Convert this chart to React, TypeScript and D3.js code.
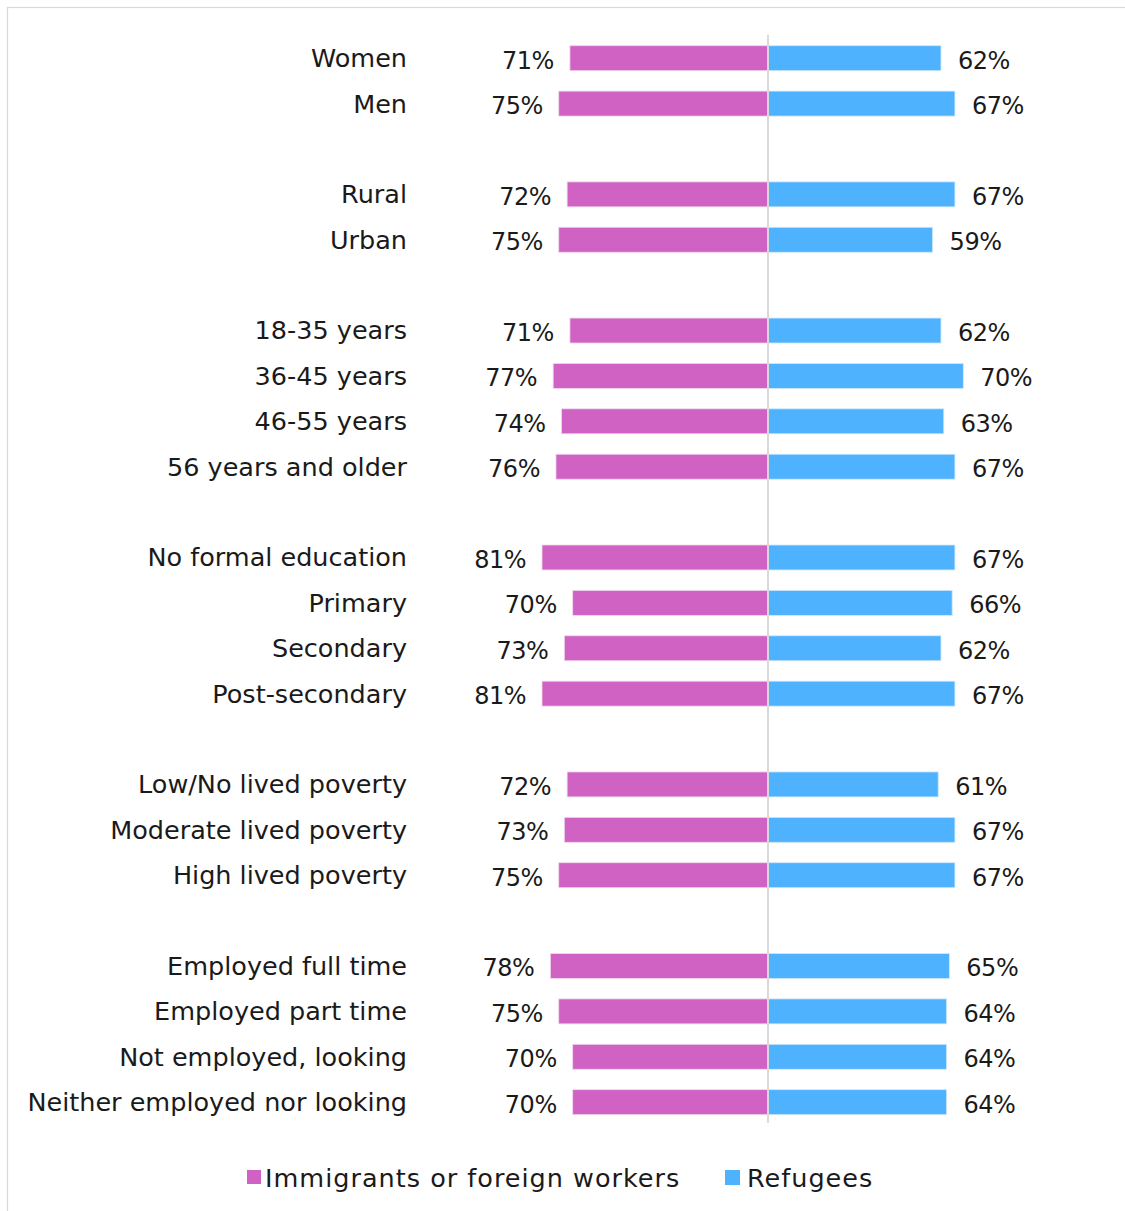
import React from "react";
import * as d3 from "d3";

const categories = [
  "Women", "Men", "",
  "Rural", "Urban", "",
  "18-35 years", "36-45 years", "46-55 years", "56 years and older", "",
  "No formal education", "Primary", "Secondary", "Post-secondary", "",
  "Low/No lived poverty", "Moderate lived poverty", "High lived poverty", "",
  "Employed full time", "Employed part time", "Not employed, looking", "Neither employed nor looking",
];
const immigrants: (number | null)[] = [
  71, 75, null,
  72, 75, null,
  71, 77, 74, 76, null,
  81, 70, 73, 81, null,
  72, 73, 75, null,
  78, 75, 70, 70,
];
const refugees: (number | null)[] = [
  62, 67, null,
  67, 59, null,
  62, 70, 63, 67, null,
  67, 66, 62, 67, null,
  61, 67, 67, null,
  65, 64, 64, 64,
];
const seriesNames = ["Immigrants or foreign workers", "Refugees"];
const colors = ["#D062C4", "#4EB2FF"];

const W = 1125;
const H = 1211;
const CX = 768;
const FONT = "'DejaVu Sans', sans-serif";

export default function App() {
  const slots = categories.map((_, i) => String(i));
  const y = d3.scaleBand<string>().domain(slots).range([35.5, 35.5 + 45.39 * 24]).paddingInner(0.45).paddingOuter(0.225);
  const len = d3.scaleLinear().domain([0, 100]).range([0, 279]);
  const bw = y.bandwidth();
  return (
    <svg width={W} height={H} style={{ position: "absolute", left: 0, top: 0, background: "#fff" }} fontFamily={FONT}>
      <rect x={7.5} y={7.5} width={W} height={H} fill="#fff" stroke="#d9d9d9" strokeWidth={1.2} />
      {categories.map((c, i) => {
        const a = immigrants[i];
        const b = refugees[i];
        if (a == null || b == null) return null;
        const y0 = y(String(i))!;
        const cy = y0 + bw / 2;
        return (
          <g key={i}>
            <text x={407} y={cy} dy="0.35em" textAnchor="end" fontSize={25.5} fill="#1a1a1a">{c}</text>
            <rect x={CX - len(a)} y={y0} width={len(a)} height={bw} fill={colors[0]} stroke="#f0d8ec" strokeWidth={0.8} />
            <rect x={CX} y={y0} width={len(b)} height={bw} fill={colors[1]} stroke="#cfe8ff" strokeWidth={0.8} />
            <text x={CX - len(a) - 16} y={cy + 2} dy="0.35em" textAnchor="end" fontSize={24} letterSpacing={-0.5} fill="#1a1a1a">{a}%</text>
            <text x={CX + len(b) + 17} y={cy + 2} dy="0.35em" textAnchor="start" fontSize={24} letterSpacing={-0.5} fill="#1a1a1a">{b}%</text>
          </g>
        );
      })}
      <line x1={CX} x2={CX} y1={35} y2={1123} stroke="#d9d9d9" strokeWidth={2} />
      <g>
        <rect x={247} y={1170} width={14} height={14} fill={colors[0]} />
        <text x={265} y={1187} fontSize={25.5} letterSpacing={1} fill="#1a1a1a">{seriesNames[0]}</text>
        <rect x={725} y={1170} width={15} height={15} fill={colors[1]} />
        <text x={747} y={1187} fontSize={25.5} letterSpacing={1} fill="#1a1a1a">{seriesNames[1]}</text>
      </g>
    </svg>
  );
}
